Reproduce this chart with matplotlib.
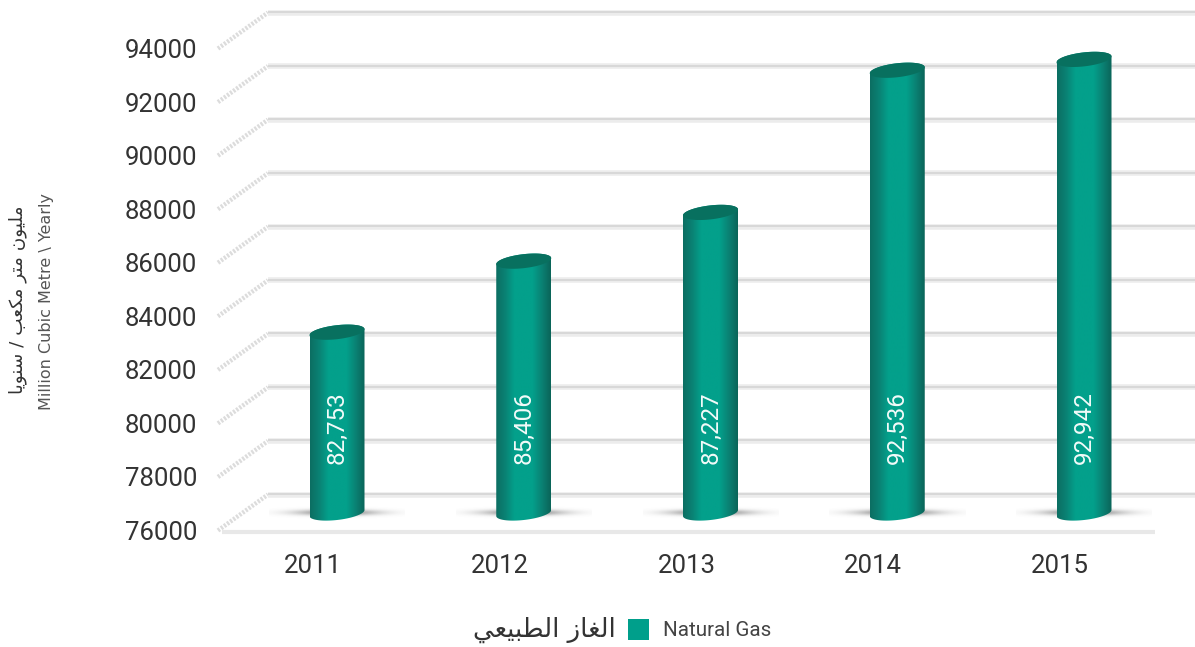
import numpy as np
import matplotlib
matplotlib.use("Agg")
import matplotlib.pyplot as plt
from matplotlib.colors import LinearSegmentedColormap
from matplotlib.patches import PathPatch, Rectangle
from matplotlib.path import Path
from matplotlib.transforms import ScaledTranslation

# ===== DATA =====
years = ["2011", "2012", "2013", "2014", "2015"]
gas_values = [82753, 85406, 87227, 92536, 92942]
bar_labels = ["82,753", "85,406", "87,227", "92,536", "92,942"]
y_ticks = [76000, 78000, 80000, 82000, 84000, 86000, 88000, 90000, 92000, 94000]

# arabic text in presentation forms, reversed because matplotlib does not shape it
ar_legend = "\uFE8D\uFEDF\uFED0\uFE8E\uFEAF \uFE8D\uFEDF\uFEC4\uFE92\uFEF4\uFECC\uFEF2"[::-1]
ar_unit = ("\uFEE3\uFEE0\uFEF4\uFEEE\uFEE5 \uFEE3\uFE98\uFEAE \uFEE3\uFEDC\uFECC\uFE90"
           " / \uFEB3\uFEE8\uFEEE\uFEF3\uFE8E")[::-1]

TEAL = "#009f8b"
W, H = 1195, 647
plt.rcParams["font.family"] = ["Roboto", "DejaVu Sans"]

fig = plt.figure(figsize=(W / 100, H / 100), dpi=100)

# axes: floor front edge is y=76000, categories are 186.75 px apart
left_px, right_px, top_px, floor_px = 218, 1195, 4, 530.5
ax = fig.add_axes([left_px / W, 1 - floor_px / H, (right_px - left_px) / W, (floor_px - top_px) / H])
px_x = 1 / 186.75
px_y = 2000 / 53.55
ax.set_xlim((left_px - 337) * px_x, (right_px - 337) * px_x)
ax.set_ylim(76000, 76000 + (floor_px - top_px) * px_y)
ax.set_autoscale_on(False)
for s in ax.spines.values():
    s.set_visible(False)

x0 = ax.get_xlim()[0]
depth_x = 50 * px_x
depth_y = 36 * px_y

# ===== WALLS =====
for v in y_ticks:
    ax.plot([x0, x0 + depth_x], [v, v + depth_y], color="#dcdcdc", lw=3.2,
            ls=(0, (0.5, 0.35)), clip_on=False, zorder=1)
    ax.plot([x0 + depth_x, ax.get_xlim()[1]], [v + depth_y, v + depth_y], color="#ececec",
            lw=4, clip_on=False, zorder=1, solid_capstyle="butt")
    ax.plot([x0 + depth_x, ax.get_xlim()[1]], [v + depth_y + 20, v + depth_y + 20], color="#d6d6d6",
            lw=1.3, clip_on=False, zorder=1, solid_capstyle="butt")
ax.plot([x0 + 4 * px_x, (1155 - 337) * px_x], [76000 - 55, 76000 - 55], color="#e8e8e8", lw=3,
        clip_on=False, zorder=1, solid_capstyle="butt")

# ===== CYLINDERS =====
cyl_cmap = LinearSegmentedColormap.from_list(
    "cyl", ["#0c6e62", "#0a8274", "#03a08b", "#03a08b", "#03a08b", "#0a8274", "#0b6459"])
grad = np.linspace(0, 1, 128).reshape(1, -1)
rx = 27.5 * px_x
ry = 7 * px_y
tilt = 3 * px_y
mid_y = 17.5 * px_y
t_low = np.linspace(np.pi, 2 * np.pi, 60)
t_up = np.linspace(0, np.pi, 60)

# soft shadow on the floor
sx = np.linspace(-1, 1, 200)
sy = np.linspace(-1, 1, 40)
shadow = np.exp(-(sx[None, :] ** 2 * 3 + sy[:, None] ** 2 * 5)) * 0.85
shadow_rgba = np.zeros((40, 200, 4))
shadow_rgba[..., :3] = 0.42
shadow_rgba[..., 3] = shadow

for i, v in enumerate(gas_values):
    base = 76000 + mid_y
    top = v + mid_y
    ax.imshow(shadow_rgba, extent=[i - 68 * px_x, i + 68 * px_x, base - 6.5 * px_y, base + 6.5 * px_y],
              aspect="auto", zorder=2, interpolation="bilinear")

    xs = np.r_[i + rx * np.cos(t_low), i + rx * np.cos(t_up)]
    ys = np.r_[base + ry * np.sin(t_low) + tilt * np.cos(t_low),
               top + ry * np.sin(t_up) + tilt * np.cos(t_up)]
    body = PathPatch(Path(np.c_[xs, ys]), transform=ax.transData, fc="none", ec="none")
    ax.add_patch(body)
    im = ax.imshow(grad, extent=[i - rx, i + rx, base - ry * 2, top + ry * 2], cmap=cyl_cmap,
                   aspect="auto", zorder=3, interpolation="bilinear")
    im.set_clip_path(body)

    t = np.linspace(0, 2 * np.pi, 120)
    ax.fill(i + rx * np.cos(t), top + ry * np.sin(t) + tilt * np.cos(t), color="#08705f", lw=0, zorder=4)

    ax.text(i + 0.5 * px_x, 76000 + 66 * px_y, bar_labels[i], rotation=90, ha="center", va="bottom",
            color="#f2fbf9", fontsize=17.5, zorder=5)

# ===== AXES TEXT =====
ax.set_xticks(range(len(years)))
ax.set_xticklabels(years, fontsize=18.5, color="#333333")
ax.set_yticks(y_ticks)
ax.set_yticklabels([str(v) for v in y_ticks], fontsize=18.5, color="#333333")
ax.tick_params(axis="both", length=0)
ax.tick_params(axis="x", pad=17)
ax.tick_params(axis="y", pad=15)
# year labels sit left of the bars
shift = ScaledTranslation(-24 / 100, 0, fig.dpi_scale_trans)
for lab in ax.get_xticklabels():
    lab.set_transform(lab.get_transform() + shift)

fig.text(47 / W, 1 - 301 / H, "Million Cubic Metre \\ Yearly", rotation=90, ha="center", va="center",
         fontsize=11.5, color="#555555", family=["Liberation Sans Narrow", "DejaVu Sans"])
fig.text(18 / W, 1 - 300 / H, ar_unit, rotation=90, ha="center", va="center",
         fontsize=13.2, color="#333333", family=["DejaVu Sans"])

# ===== LEGEND =====
fig.add_artist(Rectangle((628 / W, 1 - 640 / H), 21 / W, 21 / H, transform=fig.transFigure,
                         fc=TEAL, ec="none"))
fig.text(663 / W, 1 - 630 / H, "Natural Gas", ha="left", va="center", fontsize=14.9, color="#444444")
fig.text(616 / W, 1 - 630 / H, ar_legend, ha="right", va="center", fontsize=18.7,
         color="#333333", family=["DejaVu Sans"])

fig.savefig("out.png", dpi=100)
